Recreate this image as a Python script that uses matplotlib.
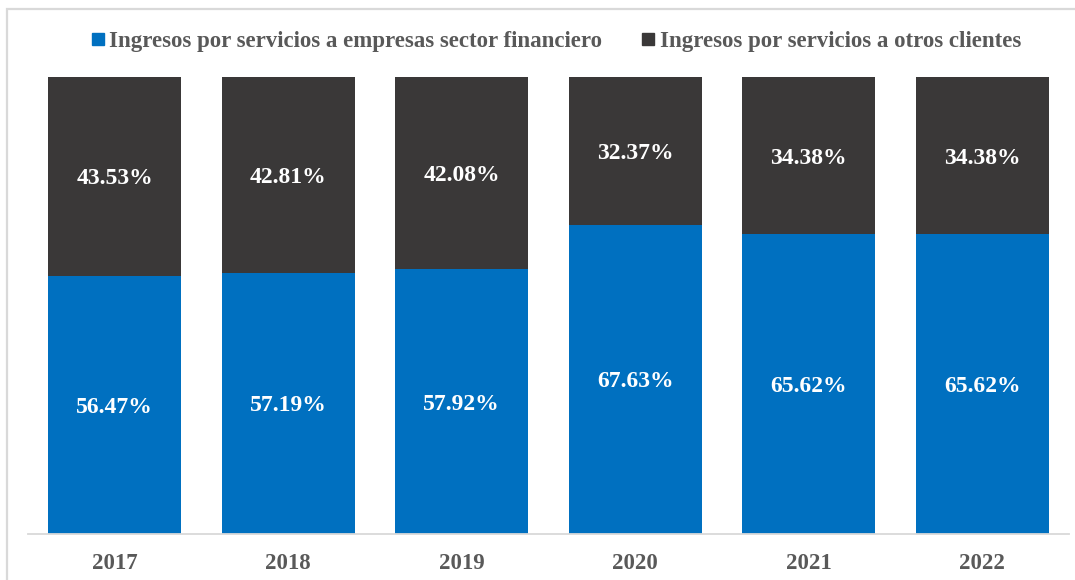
import matplotlib.pyplot as plt
from matplotlib.lines import Line2D
from matplotlib.patches import Rectangle

# Participación de ingresos por tipo de cliente
years = ["2017", "2018", "2019", "2020", "2021", "2022"]
financiero = [56.47, 57.19, 57.92, 67.63, 65.62, 65.62]
otros = [43.53, 42.81, 42.08, 32.37, 34.38, 34.38]

series_names = [
    "Ingresos por servicios a empresas sector financiero",
    "Ingresos por servicios a otros clientes",
]

blue = "#0070C0"
dark = "#3A3838"
grey_text = "#595959"

plt.rcParams["font.family"] = ["Liberation Serif", "DejaVu Serif"]
plt.rcParams["font.weight"] = "bold"

fig = plt.figure(figsize=(10.75, 5.8), dpi=100)
ax = fig.add_axes([28 / 1075, 46 / 580, 1041 / 1075, 457 / 580])

x = range(len(years))
width = 0.767

ax.bar(x, financiero, width, color=blue)
ax.bar(x, otros, width, bottom=financiero, color=dark)

# porcentajes centrados en cada segmento
for i in x:
    ax.text(i, financiero[i] / 2, f"{financiero[i]:.2f}%", ha="center", va="center_baseline",
            color="white", fontsize=17, fontweight="bold")
    ax.text(i, financiero[i] + otros[i] / 2, f"{otros[i]:.2f}%", ha="center",
            va="center_baseline", color="white", fontsize=17, fontweight="bold")

ax.set_xlim(-0.5, len(years) - 0.5)
ax.set_ylim(0, 100)
ax.set_xticks(list(x))
ax.set_xticklabels(years, fontsize=16.5, fontweight="bold", color=grey_text)
ax.tick_params(axis="x", length=0, pad=14)
ax.set_yticks([])

for side in ["top", "right", "left"]:
    ax.spines[side].set_visible(False)
ax.spines["bottom"].set_color("#D9D9D9")
ax.spines["bottom"].set_linewidth(1.3)

handles = [
    Line2D([], [], marker="s", linestyle="none", markersize=9, color=blue),
    Line2D([], [], marker="s", linestyle="none", markersize=9, color=dark),
]
fig.legend(handles, series_names, loc="center", bbox_to_anchor=(0.516, 0.928), ncol=2,
           frameon=False, handletextpad=0.1, columnspacing=1.6, handlelength=0.8,
           prop={"size": 16.5, "weight": "bold"}, labelcolor=grey_text)

# marco exterior del gráfico
fig.add_artist(Rectangle((7 / 1075, -0.1), 1.2, (580 - 9) / 580 + 0.1,
                         transform=fig.transFigure, fill=False,
                         edgecolor="#D9D9D9", linewidth=1.6))

fig.savefig("out.png", dpi=100)
